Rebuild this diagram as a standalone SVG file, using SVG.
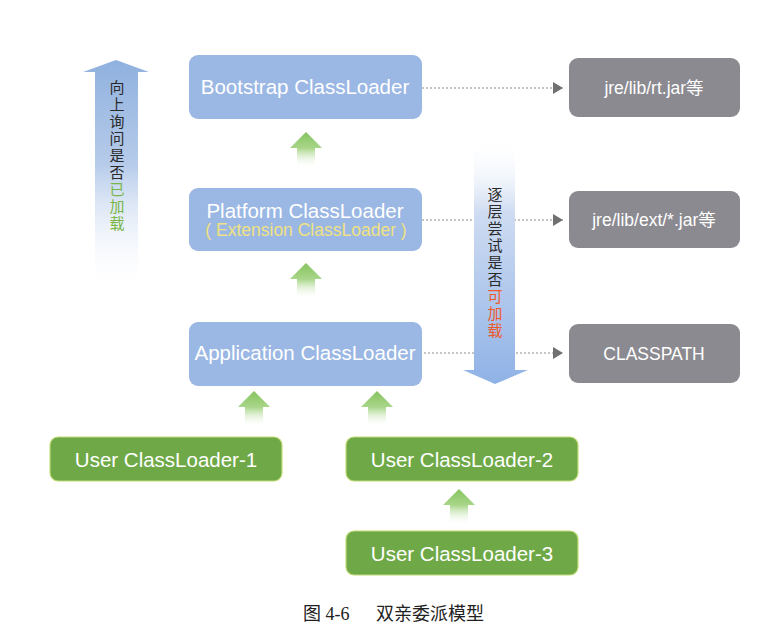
<svg xmlns="http://www.w3.org/2000/svg" width="759" height="631" viewBox="0 0 759 631">
<style>
.blue{fill:#9bb7e3}
.gray{fill:#8b8a90}
.green{fill:#6fa947;stroke:#c2dc78;stroke-width:1.2}
.t{font-family:"Liberation Sans","Noto Sans CJK SC",sans-serif;fill:#fff;text-anchor:middle}
.lg{font-size:20.5px}
.md{font-size:17.5px}
.cj{font-family:"Noto Sans CJK SC",sans-serif;font-size:15px;fill:#2a2a2a;writing-mode:vertical-rl;letter-spacing:2px}
.dash{stroke:#8a8a8a;stroke-width:1;stroke-dasharray:2 2;fill:none}
</style>
<defs>
<linearGradient id="gUp" x1="0" y1="0" x2="0" y2="1">
<stop offset="0" stop-color="#86c35e"/>
<stop offset="0.45" stop-color="#a9d68a"/>
<stop offset="1" stop-color="#ffffff" stop-opacity="0"/>
</linearGradient>
<linearGradient id="gLeft" x1="0" y1="0" x2="0" y2="1">
<stop offset="0" stop-color="#8fb1de"/>
<stop offset="0.45" stop-color="#b6cbea"/>
<stop offset="1" stop-color="#ffffff" stop-opacity="0"/>
</linearGradient>
<linearGradient id="gDown" x1="0" y1="0" x2="0" y2="1">
<stop offset="0" stop-color="#ffffff" stop-opacity="0"/>
<stop offset="0.3" stop-color="#cfdcf2"/>
<stop offset="1" stop-color="#8fb2e6"/>
</linearGradient>
<path id="ga" d="M0,0 L16,16 L9,16 L9,36 L-9,36 L-9,16 L-16,16 Z" fill="url(#gUp)"/>
<marker id="ah" markerWidth="10" markerHeight="12" refX="10" refY="6" orient="auto" markerUnits="userSpaceOnUse">
<path d="M0,0 L10,6 L0,12 Z" fill="#707070"/>
</marker>
</defs>
<rect width="759" height="631" fill="#fff"/>

<g id="connectors">
<line class="dash" x1="422" y1="88" x2="563" y2="88" marker-end="url(#ah)"/>
<line class="dash" x1="422" y1="220" x2="563" y2="220" marker-end="url(#ah)"/>
<line class="dash" x1="416" y1="353" x2="563" y2="353" marker-end="url(#ah)"/>
<use href="#ga" x="306" y="132"/>
<use href="#ga" x="306" y="263"/>
<use href="#ga" x="254" y="391"/>
<use href="#ga" x="377" y="391"/>
<use href="#ga" x="459" y="489"/>
</g>

<g id="up-arrow">
<path d="M116,60 L149,72 L138,72 L138,292 L95,292 L95,72 L83,72 Z" fill="url(#gLeft)"/>
<text class="cj" x="117" y="80">向上询问是否<tspan fill="#7ab648">已加载</tspan></text>
</g>

<g id="down-arrow">
<path d="M474,138 L515,138 L515,370 L528,370 L495,384 L463,370 L474,370 Z" fill="url(#gDown)"/>
<text class="cj" x="495" y="187">逐层尝试是否<tspan fill="#ee5a2c">可加载</tspan></text>
</g>

<g id="bootstrap">
<rect class="blue" x="189" y="55" width="233" height="64" rx="9"/>
<text class="t lg" x="305" y="94">Bootstrap ClassLoader</text>
</g>
<g id="platform">
<rect class="blue" x="189" y="188" width="233" height="63" rx="9"/>
<text class="t lg" x="305" y="218">Platform ClassLoader</text>
<text class="t md" x="306" y="236" style="fill:#f0e282">( Extension ClassLoader )</text>
</g>
<g id="application">
<rect class="blue" x="189" y="322" width="233" height="64" rx="9"/>
<text class="t lg" x="305" y="360">Application ClassLoader</text>
</g>

<g id="rt">
<rect class="gray" x="569" y="58" width="171" height="59" rx="9"/>
<text class="t md" x="654" y="94">jre/lib/rt.jar等</text>
</g>
<g id="ext">
<rect class="gray" x="569" y="191" width="171" height="57" rx="9"/>
<text class="t md" x="654" y="226">jre/lib/ext/*.jar等</text>
</g>
<g id="classpath">
<rect class="gray" x="569" y="324" width="171" height="59" rx="9"/>
<text class="t md" x="654" y="360">CLASSPATH</text>
</g>

<g id="user1">
<rect class="green" x="50" y="437" width="232" height="44" rx="8"/>
<text class="t lg" x="166" y="467">User ClassLoader-1</text>
</g>
<g id="user2">
<rect class="green" x="346" y="437" width="232" height="44" rx="8"/>
<text class="t lg" x="462" y="467">User ClassLoader-2</text>
</g>
<g id="user3">
<rect class="green" x="346" y="531" width="232" height="44" rx="8"/>
<text class="t lg" x="462" y="561">User ClassLoader-3</text>
</g>

<text x="303" y="620" font-family="Liberation Serif,'Noto Sans CJK SC',serif" font-size="18" fill="#222">图 4-6<tspan x="376">双亲委派模型</tspan></text>
</svg>
